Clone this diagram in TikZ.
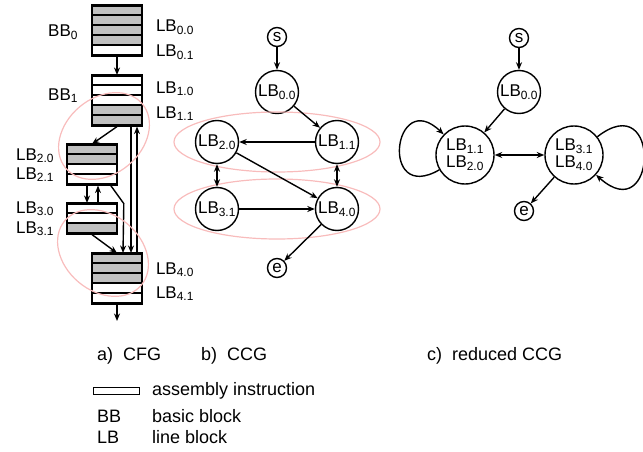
\documentclass[tikz,border=0pt]{standalone}
\usepackage{fontspec}
\setmainfont{Liberation Sans}
\usepackage{tikz}
\usetikzlibrary{arrows.meta,positioning}

\definecolor{gfill}{RGB}{192,192,192}
\definecolor{ovalpink}{RGB}{248,188,188}
\newcommand{\LB}[1]{LB\textsubscript{#1}}
\newcommand{\BB}[1]{BB\textsubscript{#1}}

\begin{document}
\begin{tikzpicture}[x=1pt, y=1pt, >={Stealth[length=7.5pt,width=6pt]}, line width=1.4pt,
    every node/.style={font=\fontsize{17}{17}\selectfont},
    block/.style={draw, line width=1.6pt, minimum width=50pt, inner sep=0pt, anchor=north},
    row/.style={draw, line width=1.6pt},
    lbnode/.style={draw, circle, minimum size=43pt, inner sep=0pt},
    bignode/.style={draw, circle, minimum size=58pt, inner sep=0pt, align=center},
    endnode/.style={draw, circle, minimum size=19pt, inner sep=0pt},
    oval/.style={draw=ovalpink, line width=1.2pt},
    label/.style={anchor=base west},
    caption/.style={anchor=base west, font=\fontsize{18}{18}\selectfont}
    ]
\useasboundingbox (0,0) rectangle (643,-452);

% a) CFG: instruction rows
\foreach \i/\f in {0/gfill,1/gfill,2/gfill,3/gfill,4/white}
    \draw[row, fill=\f] (92,-5-\i*10) rectangle ++(50,-10);
\foreach \i/\f in {0/white,1/white,2/white,3/gfill,4/gfill}
    \draw[row, fill=\f] (92,-75-\i*10) rectangle ++(50,-10);
\foreach \i/\f in {0/gfill,1/gfill,2/white,3/white}
    \draw[row, fill=\f] (67,-144-\i*10) rectangle ++(50,-10);
\foreach \i/\f in {0/white,1/white,2/gfill}
    \draw[row, fill=\f] (67,-203-\i*10) rectangle ++(50,-10);
\foreach \i/\f in {0/gfill,1/gfill,2/gfill,3/white,4/white}
    \draw[row, fill=\f] (92,-253-\i*10) rectangle ++(50,-10);

\node[block, minimum height=50pt] (bb0) at (117,-5) {};
\node[block, minimum height=50pt] (bb1) at (117,-75) {};
\node[block, minimum height=40pt] (bb2) at (92,-144) {};
\node[block, minimum height=30pt] (bb3) at (92,-203) {};
\node[block, minimum height=50pt] (bb4) at (117,-253) {};
\coordinate (exit) at (117,-321);

\node[anchor=base east] (bbl0) at (82,-37) {\BB{0}};
\node[anchor=base east] (bbl1) at (82,-100) {\BB{1}};
\node[label] (l00) at (152,-32) {\LB{0.0}};
\node[label] (l01) at (152,-57) {\LB{0.1}};
\node[label] (l10) at (152,-93) {\LB{1.0}};
\node[label] (l11) at (152,-118) {\LB{1.1}};
\node[anchor=base east] (l20) at (58,-160) {\LB{2.0}};
\node[anchor=base east] (l21) at (58,-179) {\LB{2.1}};
\node[anchor=base east] (l30) at (58,-213) {\LB{3.0}};
\node[anchor=base east] (l31) at (58,-233) {\LB{3.1}};
\node[label] (l40) at (152,-274) {\LB{4.0}};
\node[label] (l41) at (152,-298) {\LB{4.1}};

\draw[->] (bb0.south) -- (bb1.north);
\draw[->] (bb1.south) -- (bb2.north);
\draw[->] ([xshift=-5pt]bb2.south) -- ([xshift=-5pt]bb3.north);
\draw[->] ([xshift=6pt]bb3.north) -- ([xshift=6pt]bb2.south);
\draw[->] (bb3.south) -- (bb4.north);
\draw[->] ([xshift=-7pt]bb2.south east) -- ++(13,-18) -- ([xshift=6pt]bb4.north);
\draw[->] ([xshift=14pt]bb1.south) -- ([xshift=14pt]bb4.north);
\draw[->] ([xshift=20pt]bb4.north) -- ([xshift=20pt]bb1.south);
\draw[->] (bb4.south) -- (exit);

\draw[oval, rotate around={40:(104,-136)}] (104,-136) ellipse [x radius=50, y radius=38];
\draw[oval, rotate around={-40:(103,-253)}] (103,-253) ellipse [x radius=50, y radius=38];

% b) CCG
\node[endnode] (s1) at (277,-37) {s};
\node[lbnode] (c00) at (277,-92) {\LB{0.0}};
\node[lbnode] (c11) at (337,-142) {\LB{1.1}};
\node[lbnode] (c20) at (217,-142) {\LB{2.0}};
\node[lbnode] (c31) at (217,-209) {\LB{3.1}};
\node[lbnode] (c40) at (337,-209) {\LB{4.0}};
\node[endnode] (e1) at (277,-268) {e};

\draw[oval] (277,-142) ellipse [x radius=103, y radius=30];
\draw[oval] (277,-209) ellipse [x radius=103, y radius=30];

\path[->]
(s1)  edge (c00)
(c00) edge (c11)
(c11) edge (c20)
(c20) edge (c40)
(c31) edge (c40)
(c40) edge (e1)
(c20) edge[<->] (c31)
(c11) edge[<->] (c40)
;

% c) reduced CCG
\node[endnode] (s2) at (519,-38) {s};
\node[lbnode] (r00) at (519,-92) {\LB{0.0}};
\node[bignode] (r1) at (465,-155) {\LB{1.1}\\\LB{2.0}};
\node[bignode] (r2) at (574,-155) {\LB{3.1}\\\LB{4.0}};
\node[endnode] (e2) at (524,-211) {e};

\path[->]
(s2)  edge (r00)
(r00) edge (r1)
(r1)  edge[<->] (r2)
(r2)  edge (e2)
(r1)  edge[loop, out=210, in=136, looseness=5] (r1)
(r2)  edge[loop, out=38, in=-42, looseness=5.5] (r2)
;

% captions and legend
\node[caption] (capa) at (93,-360) {a)~~CFG};
\node[caption] (capb) at (197,-360) {b)~~CCG};
\node[caption] (capc) at (423,-360) {c)~~reduced CCG};

\node[draw, minimum width=46pt, minimum height=7pt, inner sep=0pt, anchor=south west] (instr) at (93,-395) {};
\node[caption] (instrtxt) at (148,-395) {assembly instruction};
\node[caption] (bbkey) at (93,-422) {BB};
\node[caption] (bbtxt) at (148,-422) {basic block};
\node[caption] (lbkey) at (93,-443) {LB};
\node[caption] (lbtxt) at (148,-443) {line block};
\end{tikzpicture}
\end{document}
